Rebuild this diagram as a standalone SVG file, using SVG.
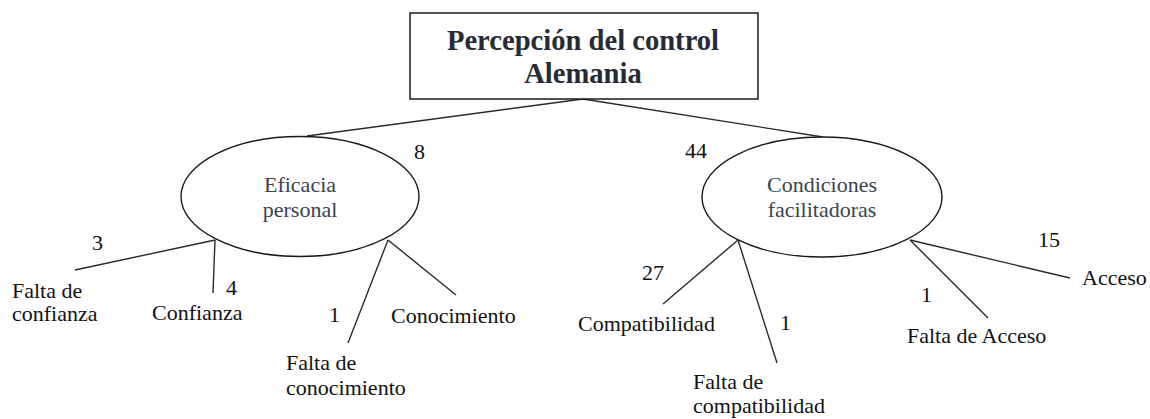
<svg xmlns="http://www.w3.org/2000/svg" width="1150" height="419" viewBox="0 0 1150 419">
<style>
.bg{fill:#fff}
.box{fill:#fff;stroke:#1a1a1a;stroke-width:1.5}
.ell{fill:#fff;stroke:#1a1a1a;stroke-width:1.4}
.ln{stroke:#2a2a2a;stroke-width:1.4;fill:none}
text{font-family:'Liberation Serif',serif}
.title{font-weight:bold;font-size:28.6px;fill:#262b36;text-anchor:middle}
.cat{font-size:22px;fill:#3a4252;text-anchor:middle}
.leaf{font-size:22px;fill:#111}
.num{font-size:22px;fill:#111}
</style>
<rect class="bg" x="0" y="0" width="1150" height="419"/>
<g id="connectors">
<line class="ln" x1="583" y1="99" x2="307" y2="136"/>
<line class="ln" x1="583" y1="99" x2="823" y2="137"/>
<line class="ln" x1="215" y1="240" x2="75" y2="270"/>
<line class="ln" x1="215" y1="240" x2="213" y2="293"/>
<line class="ln" x1="388" y1="240" x2="348" y2="343"/>
<line class="ln" x1="388" y1="240" x2="456" y2="295"/>
<line class="ln" x1="738" y1="240" x2="663" y2="304"/>
<line class="ln" x1="738" y1="240" x2="777" y2="363"/>
<line class="ln" x1="910" y1="240" x2="988" y2="318"/>
<line class="ln" x1="910" y1="240" x2="1070" y2="278"/>
</g>
<g id="root">
<rect class="box" x="410" y="13" width="348" height="86"/>
<text class="title" x="583" y="50">Percepción del control</text>
<text class="title" x="583" y="83">Alemania</text>
</g>
<g id="eficacia">
<ellipse class="ell" cx="300" cy="196.5" rx="119" ry="60"/>
<text class="cat" x="300" y="192">Eficacia</text>
<text class="cat" x="300" y="217">personal</text>
</g>
<g id="condiciones">
<ellipse class="ell" cx="822" cy="197" rx="120" ry="60"/>
<text class="cat" x="822" y="192">Condiciones</text>
<text class="cat" x="822" y="217">facilitadoras</text>
</g>
<g id="falta-confianza">
<text class="leaf" x="12" y="298">Falta de</text>
<text class="leaf" x="12" y="321">confianza</text>
</g>
<g id="confianza">
<text class="leaf" x="152" y="320">Confianza</text>
</g>
<g id="falta-conocimiento">
<text class="leaf" x="286" y="370">Falta de</text>
<text class="leaf" x="286" y="395">conocimiento</text>
</g>
<g id="conocimiento">
<text class="leaf" x="391" y="323">Conocimiento</text>
</g>
<g id="compatibilidad">
<text class="leaf" x="578" y="331">Compatibilidad</text>
</g>
<g id="falta-compatibilidad">
<text class="leaf" x="693" y="389">Falta de</text>
<text class="leaf" x="693" y="413">compatibilidad</text>
</g>
<g id="falta-acceso">
<text class="leaf" x="907" y="343">Falta de Acceso</text>
</g>
<g id="acceso">
<text class="leaf" x="1082" y="285">Acceso</text>
</g>
<g id="labels">
<text class="num" x="414" y="159">8</text>
<text class="num" x="685" y="158">44</text>
<text class="num" x="92" y="250">3</text>
<text class="num" x="226" y="295">4</text>
<text class="num" x="329" y="322">1</text>
<text class="num" x="642" y="280">27</text>
<text class="num" x="780" y="330">1</text>
<text class="num" x="921" y="302">1</text>
<text class="num" x="1038" y="247">15</text>
</g>
</svg>
